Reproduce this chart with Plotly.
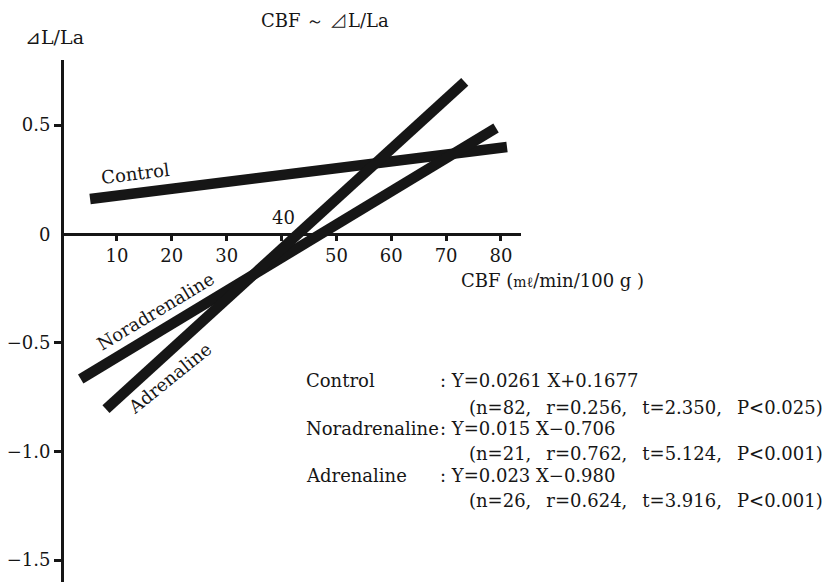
import plotly.graph_objects as go

# ---- data ----
series = ["Control", "Noradrenaline", "Adrenaline"]
x_start = [5.1, 3.4, 8.0]
x_end = [81.1, 79.1, 73.4]
y_start = [0.16, -0.668, -0.806]
y_end = [0.399, 0.486, 0.698]

x_ticks = [10, 20, 30, 40, 50, 60, 70, 80]
x_ticklabels = ["10", "20", "30", "", "50", "60", "70", "80"]
y_ticks = [0.5, -0.5, -1.0, -1.5]
y_ticklabels = ["0.5", "\u22120.5", "\u22121.0", "\u22121.5"]

eq_names = ["Control", "Noradrenaline", "Adrenaline"]
eq_lines = [": Y=0.0261 X+0.1677", ": Y=0.015 X\u22120.706", ": Y=0.023 X\u22120.980"]
SEP = ",  \u2009"
eq_stats = ["(n=82" + SEP + "r=0.256" + SEP + "t=2.350" + SEP + "P<0.025)",
            "(n=21" + SEP + "r=0.762" + SEP + "t=5.124" + SEP + "P<0.001)",
            "(n=26" + SEP + "r=0.624" + SEP + "t=3.916" + SEP + "P<0.001)"]

# ---- layout geometry (screen pixels; page body adds an 8px offset) ----
OFF = 8
W, H = 832, 582
L, R, T, B = 64, 521, 60, 582          # plot area on screen
XR = [0.35, 83.65]
YR = [-1.601, 0.799]
FONT = "DejaVu Serif"
INK = "#161616"

def px(x):
    return (x - L) / (R - L)

def py(y):
    return (B - y) / (B - T)

fig = go.Figure()
for i, name in enumerate(series):
    fig.add_trace(go.Scatter(
        x=[x_start[i], x_end[i]], y=[y_start[i], y_end[i]],
        mode="lines", line=dict(color=INK, width=10.5), name=name,
        showlegend=False, hoverinfo="skip"))

ann = []
def add(text, x, y, xa="center", ya="middle", size=18, angle=0):
    ann.append(dict(text=text, x=px(x), y=py(y), xref="paper", yref="paper",
                    xanchor=xa, yanchor=ya, showarrow=False, textangle=angle,
                    font=dict(family=FONT, size=size, color=INK)))

add("CBF \uff5e \u22bfL/La", 325, 20, size=18)
add("\u22bfL/La", 54, 37, size=19)
add("0", 52, 234, xa="right", size=18)
add("40", 283, 217, size=18)
add("CBF (<span style='font-size:14px'>m\u2113</span>/min/100 g )", 459, 280, xa="left", size=18)
add("Control", 135, 173, size=18, angle=-7)
add("Noradrenaline", 155, 311, size=18, angle=-31)
add("Adrenaline", 169, 378, size=18, angle=-39)

row_y = [380, 428, 475]
stat_y = [407, 453, 500]
for i in range(3):
    add(eq_names[i], 304, row_y[i], xa="left", size=18)
    add(eq_lines[i], 438, row_y[i], xa="left", size=18)
    add(eq_stats[i], 467, stat_y[i], xa="left", size=18)

ypos = (0 - YR[0]) / (YR[1] - YR[0])

fig.update_layout(
    width=W, height=H,
    margin=dict(l=L - OFF, r=W - (R - OFF), t=T - OFF, b=H - (B - OFF), pad=0,
                autoexpand=False),
    plot_bgcolor="white", paper_bgcolor="white",
    annotations=ann,
    xaxis=dict(range=XR, anchor="free", position=ypos, showline=True,
               automargin=False,
               linewidth=3, linecolor=INK, ticks="outside", ticklen=5,
               tickwidth=3, tickcolor=INK, tickvals=x_ticks,
               ticktext=x_ticklabels, showgrid=False, zeroline=False,
               tickfont=dict(family=FONT, size=18, color=INK)),
    yaxis=dict(range=YR, showline=True, linewidth=3, linecolor=INK,
               automargin=False,
               ticks="outside", ticklen=7, tickwidth=3, tickcolor=INK,
               tickvals=y_ticks, ticktext=y_ticklabels, showgrid=False,
               zeroline=False, tickfont=dict(family=FONT, size=18, color=INK)),
)

fig.write_html("out.html")
